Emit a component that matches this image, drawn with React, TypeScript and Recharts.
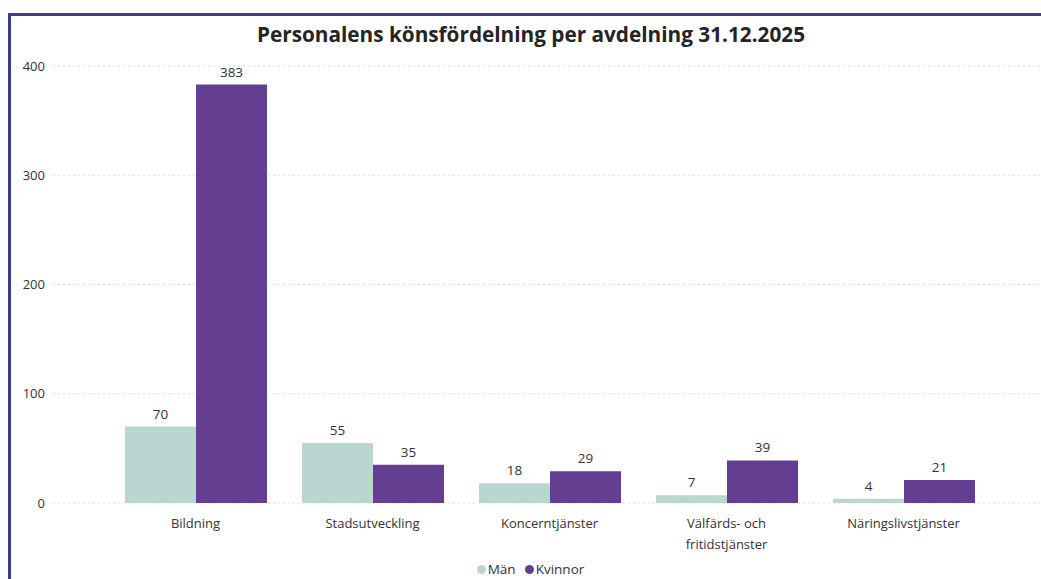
import { BarChart, Bar, XAxis, YAxis, CartesianGrid, Legend, LabelList } from 'recharts';

const categories = ['Bildning', 'Stadsutveckling', 'Koncerntjänster', 'Välfärds- och fritidstjänster', 'Näringslivstjänster'];
const man = [70, 55, 18, 7, 4];
const kvinnor = [383, 35, 29, 39, 21];
const yTicks = [0, 100, 200, 300, 400];

const data = categories.map((name, i) => ({ name, man: man[i], kvinnor: kvinnor[i] }));

const FONT = '"Open Sans", sans-serif';
const TEXT = '#333333';
const MAN_COLOR = '#b9d6d1';
const KVINNOR_COLOR = '#643f91';

function wrap(label: string, max = 16) {
  const lines: string[] = [];
  let cur = '';
  for (const w of label.split(' ')) {
    const next = cur ? cur + ' ' + w : w;
    if (next.length > max && cur) {
      lines.push(cur);
      cur = w;
    } else cur = next;
  }
  if (cur) lines.push(cur);
  return lines;
}

function CategoryTick(props: any) {
  const { x, y, payload } = props;
  const lines = wrap(payload.value);
  return (
    <text x={x} y={y} textAnchor="middle" fill={TEXT} fontSize={13} fontFamily={FONT}>
      {lines.map((l, i) => (
        <tspan key={i} x={x} dy={i === 0 ? 17 : 21}>{l}</tspan>
      ))}
    </text>
  );
}

function LegendContent() {
  const items = [
    { label: 'Män', color: MAN_COLOR },
    { label: 'Kvinnor', color: KVINNOR_COLOR },
  ];
  return (
    <div style={{ display: 'flex', justifyContent: 'center', height: 20, alignItems: 'center', fontFamily: FONT, fontSize: 13.5, color: TEXT, paddingLeft: 18 }}>
      {items.map((it) => (
        <span key={it.label} style={{ display: 'flex', alignItems: 'center', marginRight: 9 }}>
          <span style={{ width: 9, height: 9, borderRadius: '50%', background: it.color, marginRight: 2 }} />
          {it.label}
        </span>
      ))}
    </div>
  );
}

export default function App() {
  return (
    <div
      style={{
        position: 'absolute',
        left: 8,
        top: 13,
        width: 1030,
        height: 563,
        borderTop: '3px solid #3b3b8f',
        borderLeft: '3px solid #3b3b8f',
        background: '#fff',
        fontFamily: FONT,
      }}
    >
      <div
        style={{
          position: 'absolute',
          top: 5,
          left: 0,
          width: 1040,
          textAlign: 'center',
          fontSize: 20.75,
          lineHeight: '26px',
          fontWeight: 700,
          color: '#252423',
        }}
      >
        Personalens könsfördelning per avdelning 31.12.2025
      </div>
      <BarChart
        width={1030}
        height={563}
        data={data}
        margin={{ top: 50, right: 0, bottom: 0, left: 0 }}
        barCategoryGap={18}
        barGap={0}
      >
        <CartesianGrid vertical={false} stroke="#dcdcdc" strokeDasharray="2 3" />
        <XAxis
          dataKey="name"
          axisLine={false}
          tickLine={false}
          height={56}
          padding={{ left: 54, right: 49 }}
          tick={<CategoryTick />}
          interval={0}
        />
        <YAxis
          domain={[0, 400]}
          ticks={yTicks}
          width={42}
          axisLine={false}
          tickLine={false}
          tickMargin={2}
          tick={{ fill: TEXT, fontSize: 13, fontFamily: FONT }}
        />
        <Legend verticalAlign="bottom" content={<LegendContent />} />
        <Bar dataKey="man" name="Män" fill={MAN_COLOR} isAnimationActive={false}>
          <LabelList dataKey="man" position="top" offset={8} fill={TEXT} fontSize={13.5} fontFamily={FONT} />
        </Bar>
        <Bar dataKey="kvinnor" name="Kvinnor" fill={KVINNOR_COLOR} isAnimationActive={false}>
          <LabelList dataKey="kvinnor" position="top" offset={8} fill={TEXT} fontSize={13.5} fontFamily={FONT} />
        </Bar>
      </BarChart>
    </div>
  );
}
